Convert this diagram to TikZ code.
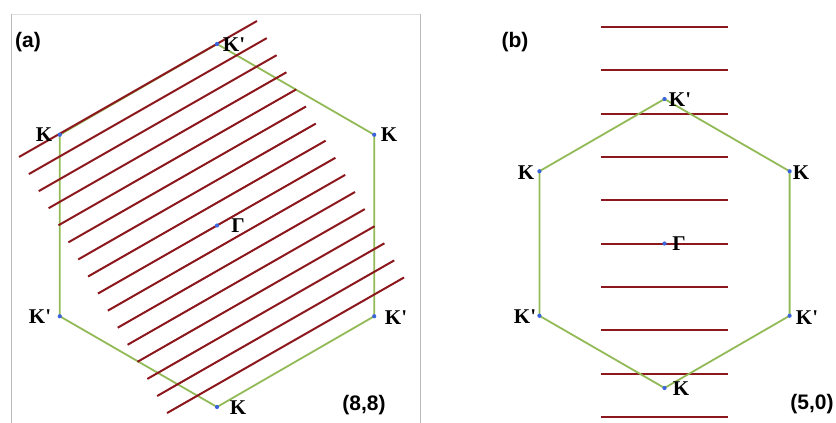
\documentclass[tikz,border=0pt]{standalone}
\usepackage{fontspec}
\newfontfamily\lblfont{Liberation Serif}
\newfontfamily\panfont{Liberation Sans}
\definecolor{hexgreen}{RGB}{146,186,86}
\definecolor{bandred}{RGB}{140,24,30}
\definecolor{dotblue}{RGB}{60,100,220}
\definecolor{framegray}{RGB}{185,185,185}
\definecolor{framelight}{RGB}{225,225,225}
\begin{document}
\begin{tikzpicture}[x=1pt,y=-1pt,
  hexedge/.style={draw=hexgreen, line width=1.8pt, line join=miter},
  band/.style={draw=bandred, line width=2pt},
  vdot/.style={circle, fill=dotblue, inner sep=0pt, minimum size=4.2pt},
  klabel/.style={font=\lblfont\bfseries\fontsize{21}{21}\selectfont, inner sep=0pt, text=black},
  plabel/.style={font=\panfont\bfseries\fontsize{21}{21}\selectfont, inner sep=0pt, text=black},
  framel/.style={draw=framegray, line width=0.9pt}]
\useasboundingbox (0,0) rectangle (836,423);
\fill[white] (0,0) rectangle (836,423);
% frame of panel (a)
\draw[framelight, line width=0.9pt] (11,14) -- (420,14);
\draw[framel] (11,423) -- (11,14);
\draw[framel] (420,14) -- (420,423);
% ---------- panel (a)
\coordinate (aT) at (217,44);
\coordinate (aUR) at (374.2,134.75);
\coordinate (aLR) at (374.2,316.25);
\coordinate (aB) at (217,407);
\coordinate (aLL) at (59.8,316.25);
\coordinate (aUL) at (59.8,134.75);
\coordinate (aG) at (217,225.5);
\draw[hexedge] (aT) -- (aUR) -- (aLR) -- (aB) -- (aLL) -- (aUL) -- cycle;
\foreach \i in {0,...,15}{
  \draw[band] ({19+9.87*\i},{157+17.07*\i}) -- ({257+9.8*\i},{21+17.1*\i});
}
\foreach \p in {aT,aUR,aLR,aB,aLL,aUL,aG}{
  \node[vdot] (\p d) at (\p) {};
}
\node[klabel] (aTl) at (234,45) {K\textquotesingle};
\node[klabel] (aULl) at (44,135) {K};
\node[klabel] (aURl) at (389,135) {K};
\node[klabel] (aLLl) at (40,317) {K\textquotesingle};
\node[klabel] (aLRl) at (396,318) {K\textquotesingle};
\node[klabel] (aBl) at (238,408) {K};
\node[klabel] (aGl) at (238,226) {Γ};
\node[plabel] (alab) at (28,42) {(a)};
\node[plabel] (anum) at (364,405) {(8,8)};
% ---------- panel (b)
\coordinate (bT) at (664.5,99);
\coordinate (bUR) at (789.6,171.25);
\coordinate (bLR) at (789.6,315.75);
\coordinate (bB) at (664.5,388);
\coordinate (bLL) at (539.4,315.75);
\coordinate (bUL) at (539.4,171.25);
\coordinate (bG) at (664.5,243.5);
\foreach \i in {0,...,9}{
  \draw[band] (601,{27+43.33*\i}) -- (728,{27+43.33*\i});
}
\draw[hexedge] (bT) -- (bUR) -- (bLR) -- (bB) -- (bLL) -- (bUL) -- cycle;
\foreach \p in {bT,bUR,bLR,bB,bLL,bUL,bG}{
  \node[vdot] (\p d) at (\p) {};
}
\node[klabel] (bTl) at (680,100) {K\textquotesingle};
\node[klabel] (bULl) at (526,173) {K};
\node[klabel] (bURl) at (801,173) {K};
\node[klabel] (bLLl) at (525,317) {K\textquotesingle};
\node[klabel] (bLRl) at (807,318) {K\textquotesingle};
\node[klabel] (bBl) at (681,389) {K};
\node[klabel] (bGl) at (679,244) {Γ};
\node[plabel] (blab) at (515,42) {(b)};
\node[plabel] (bnum) at (812,404) {(5,0)};
\end{tikzpicture}
\end{document}
